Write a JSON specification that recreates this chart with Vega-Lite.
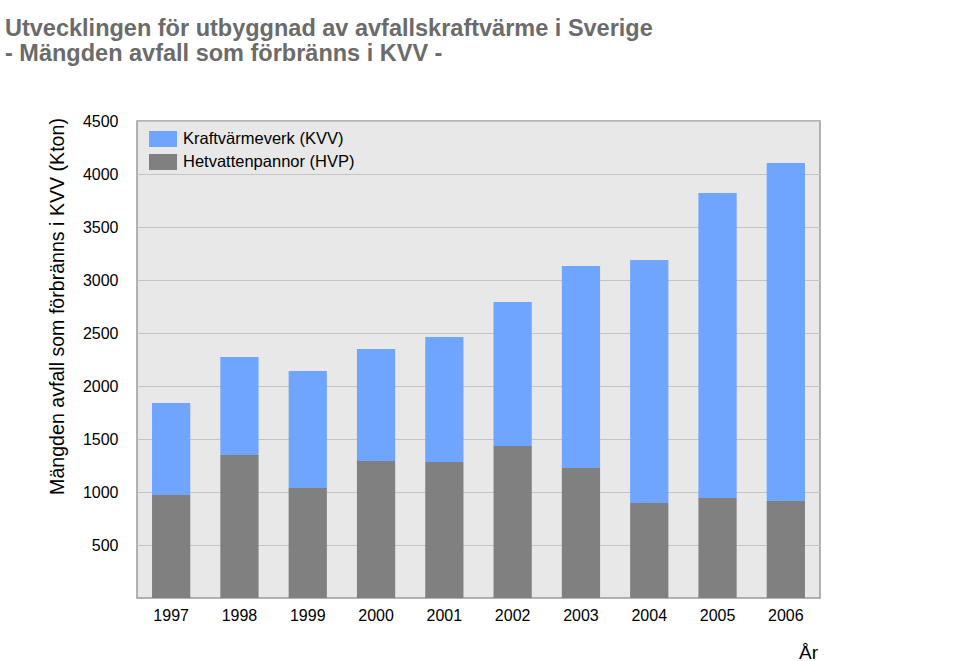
{
  "$schema": "https://vega.github.io/schema/vega-lite/v6.json",
  "autosize": {"type": "none"},
  "padding": {"left": 137, "top": 121, "right": 140, "bottom": 63},
  "width": 683,
  "height": 477,
  "background": "white",
  "title": {
    "text": ["Utvecklingen för utbyggnad av avfallskraftvärme i Sverige", "- Mängden avfall som förbränns i KVV -"],
    "anchor": "start",
    "frame": "group",
    "dx": -132,
    "offset": 48,
    "font": "Liberation Sans",
    "fontSize": 23.5,
    "fontWeight": "bold",
    "color": "#6b6b6b",
    "lineHeight": 25
  },
  "data": {
    "values": [
      {"year": "1997", "typ": "Hetvattenpannor (HVP)", "value": 972},
      {"year": "1997", "typ": "Kraftvärmeverk (KVV)", "value": 868},
      {"year": "1998", "typ": "Hetvattenpannor (HVP)", "value": 1349},
      {"year": "1998", "typ": "Kraftvärmeverk (KVV)", "value": 925},
      {"year": "1999", "typ": "Hetvattenpannor (HVP)", "value": 1038},
      {"year": "1999", "typ": "Kraftvärmeverk (KVV)", "value": 1104},
      {"year": "2000", "typ": "Hetvattenpannor (HVP)", "value": 1292},
      {"year": "2000", "typ": "Kraftvärmeverk (KVV)", "value": 1057},
      {"year": "2001", "typ": "Hetvattenpannor (HVP)", "value": 1283},
      {"year": "2001", "typ": "Kraftvärmeverk (KVV)", "value": 1179},
      {"year": "2002", "typ": "Hetvattenpannor (HVP)", "value": 1434},
      {"year": "2002", "typ": "Kraftvärmeverk (KVV)", "value": 1358},
      {"year": "2003", "typ": "Hetvattenpannor (HVP)", "value": 1226},
      {"year": "2003", "typ": "Kraftvärmeverk (KVV)", "value": 1906},
      {"year": "2004", "typ": "Hetvattenpannor (HVP)", "value": 896},
      {"year": "2004", "typ": "Kraftvärmeverk (KVV)", "value": 2293},
      {"year": "2005", "typ": "Hetvattenpannor (HVP)", "value": 943},
      {"year": "2005", "typ": "Kraftvärmeverk (KVV)", "value": 2878},
      {"year": "2006", "typ": "Hetvattenpannor (HVP)", "value": 915},
      {"year": "2006", "typ": "Kraftvärmeverk (KVV)", "value": 3189}
    ]
  },
  "mark": {"type": "bar"},
  "encoding": {
    "x": {
      "field": "year",
      "type": "ordinal",
      "scale": {"paddingInner": 0.44, "paddingOuter": 0.22},
      "axis": {
        "title": "År",
        "labelAngle": 0,
        "domain": false,
        "ticks": false,
        "labelPadding": 9,
        "labelFont": "Liberation Sans",
        "labelFontSize": 16,
        "labelColor": "#000000",
        "titleFont": "Liberation Sans",
        "titleFontSize": 19,
        "titleFontWeight": "normal",
        "titleColor": "#000000",
        "titleX": 671,
        "titleY": 60,
        "titleAlign": "center",
        "titleBaseline": "alphabetic"
      }
    },
    "y": {
      "field": "value",
      "type": "quantitative",
      "stack": "zero",
      "scale": {"domain": [0, 4500], "nice": false},
      "axis": {
        "title": "Mängden  avfall som förbränns i KVV (Kton)",
        "values": [500, 1000, 1500, 2000, 2500, 3000, 3500, 4000, 4500],
        "format": "d",
        "domain": false,
        "ticks": false,
        "labelPadding": 19,
        "labelFont": "Liberation Sans",
        "labelFontSize": 16,
        "labelColor": "#000000",
        "gridColor": "#c4c4c4",
        "gridWidth": 1,
        "titleFont": "Liberation Sans",
        "titleFontSize": 19.6,
        "titleFontWeight": "normal",
        "titleColor": "#000000",
        "titleAngle": -90,
        "titleX": -80,
        "titleY": 185,
        "titleAlign": "center",
        "titleBaseline": "middle"
      }
    },
    "color": {
      "field": "typ",
      "type": "nominal",
      "scale": {
        "domain": ["Kraftvärmeverk (KVV)", "Hetvattenpannor (HVP)"],
        "range": ["#70a5ff", "#808080"]
      },
      "legend": {
        "title": null,
        "orient": "none",
        "legendX": 12,
        "legendY": 4,
        "padding": 0,
        "symbolType": "M-1,-0.57H1V0.57H-1Z",
        "symbolSize": 784,
        "symbolOpacity": 1,
        "symbolStrokeWidth": 0,
        "labelFont": "Liberation Sans",
        "labelFontSize": 16.5,
        "labelLimit": 0,
        "labelColor": "#000000",
        "labelOffset": 6,
        "rowPadding": -6
      }
    },
    "order": {"field": "typ", "sort": "ascending"}
  },
  "config": {
    "view": {"fill": "#e8e8e8", "stroke": "#9a9a9a", "strokeWidth": 1.5}
  }
}
